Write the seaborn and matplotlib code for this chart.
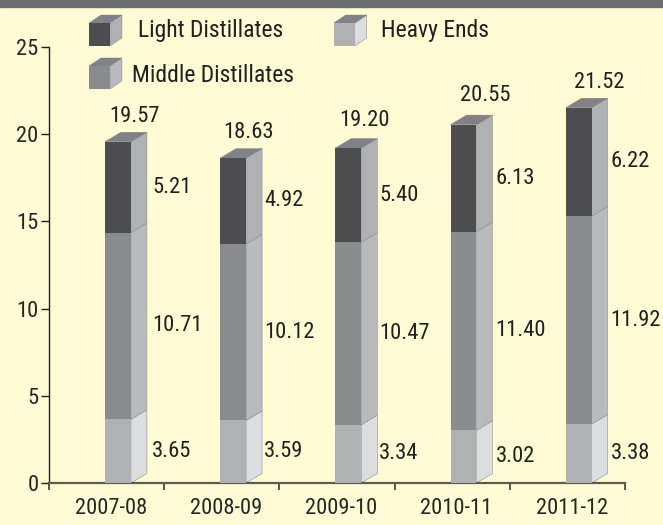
import matplotlib
matplotlib.use('Agg')
import matplotlib.pyplot as plt
import seaborn as sns
from matplotlib.patches import Polygon, Rectangle

years = ['2007-08', '2008-09', '2009-10', '2010-11', '2011-12']
heavy = [3.65, 3.59, 3.34, 3.02, 3.38]
middle = [10.71, 10.12, 10.47, 11.40, 11.92]
light = [5.21, 4.92, 5.40, 6.13, 6.22]
totals = ['19.57', '18.63', '19.20', '20.55', '21.52']
yticks = [0, 5, 10, 15, 20, 25]

BG = '#FFFBD5'
INK = '#231F20'
TOP = '#808285'
# front, side
C_LIGHT = ('#4D4D4F', '#B0B1B3')
C_MIDDLE = ('#8A8B8D', '#B9BABD')
C_HEAVY = ('#B0B1B3', '#DCDDDE')

W, H = 663, 525
L, R, B, T = 49, 625, 483, 47
PX_X = 115.3   # pixels per category
PX_Y = (B - T) / 25
BAR_W = 26 / PX_X
FONT = 16.2
LEG_FONT = 17

# hand placed label nudges, in pixels
total_dx = [17, 15, 16, 22, 21]
total_dy = [25, 26, 27, 29, 25]
seg_dx = [21, 18, 18, 19, 19]

sns.set_theme(style='white')
plt.rcParams['font.family'] = ['Roboto Condensed', 'Liberation Sans', 'DejaVu Sans']
plt.rcParams['text.color'] = INK

fig = plt.figure(figsize=(W / 100, H / 100), dpi=100, facecolor=BG)
ax = fig.add_axes([L / W, 1 - B / H, (R - L) / W, (B - T) / H], facecolor=BG)
fig.patches.append(Rectangle((0, 1 - 7 / H), 1, 7 / H, transform=fig.transFigure, color='#6D6E71'))


def side(x, y0, y1, col, dx, dy):
    ax.add_patch(Polygon([(x, y0), (x + dx, y0 + dy), (x + dx, y1 + dy), (x, y1)],
                         closed=True, fc=col, ec='#8f9092', lw=0.4, clip_on=False, zorder=2))


def top(x0, x1, y, dx, dy):
    ax.add_patch(Polygon([(x0, y), (x0 + dx, y + dy), (x1 + dx, y + dy), (x1, y)],
                         closed=True, fc=TOP, ec=TOP, lw=0.3, clip_on=False, zorder=2))


# stacked fronts
bottom = [0] * 5
for vals, cols in [(heavy, C_HEAVY), (middle, C_MIDDLE), (light, C_LIGHT)]:
    sns.barplot(x=years, y=vals, bottom=bottom, color=cols[0], saturation=1, width=BAR_W,
                linewidth=0, ax=ax, zorder=3)
    for i, v in enumerate(vals):
        side(i + BAR_W / 2, bottom[i], bottom[i] + v, cols[1], 16 / PX_X, 9.5 / PX_Y)
        ax.annotate(f'{v:.2f}', (i + BAR_W / 2, bottom[i] + v / 2), xytext=(seg_dx[i] * 0.72, 0),
                    textcoords='offset points', va='center', ha='left', fontsize=FONT)
    bottom = [b + v for b, v in zip(bottom, vals)]

for i, t in enumerate(totals):
    top(i - BAR_W / 2, i + BAR_W / 2, bottom[i], 16 / PX_X, 9.5 / PX_Y)
    ax.annotate(t, (i, bottom[i]), xytext=(total_dx[i] * 0.72, total_dy[i] * 0.72), textcoords='offset points',
                va='center', ha='center', fontsize=FONT)

ax.set_xlim((L - 118) / PX_X, (R - 118) / PX_X)
ax.set_ylim(0, 25)
ax.set_yticks(yticks)
ax.set_yticklabels([str(t) for t in yticks], fontsize=FONT)
ax.set_xticks([i - 0.598 for i in range(6)])
ax.set_xticklabels([])
ax.set_xticks([i - 0.06 for i in range(5)], minor=True)
ax.set_xticklabels(years, minor=True, fontsize=FONT)
ax.tick_params(axis='y', left=True, length=6, width=1, color=INK, pad=1.5)
ax.tick_params(axis='x', which='major', bottom=True, length=5, width=1.2, color='#3b3a36')
ax.tick_params(axis='x', which='minor', bottom=False, length=0, pad=10.5)
for s in ['top', 'right']:
    ax.spines[s].set_visible(False)
ax.spines['left'].set_color(INK)
ax.spines['left'].set_linewidth(1)
ax.spines['bottom'].set_color('#5E5C52')
ax.spines['bottom'].set_linewidth(1.6)
ax.set_xlabel('')
ax.set_ylabel('')


# legend cubes
def swatch(px, py, cols, label, tx, ty):
    x0 = (px - 118) / PX_X
    x1 = x0 + 21 / PX_X
    y0 = (B - py - 23) / PX_Y
    y1 = y0 + 23 / PX_Y
    dx, dy = 12 / PX_X, 8 / PX_Y
    ax.add_patch(Rectangle((x0, y0), x1 - x0, y1 - y0, fc=cols[0], ec='none', clip_on=False, zorder=3))
    side(x1, y0, y1, cols[1], dx, dy)
    top(x0, x1, y1, dx, dy)
    fig.text(tx / W, 1 - ty / H, label, fontsize=LEG_FONT, va='center', ha='left')


swatch(89, 23, C_LIGHT, 'Light Distillates', 138, 30)
swatch(334, 23, C_HEAVY, 'Heavy Ends', 381, 30)
swatch(89, 66, C_MIDDLE, 'Middle Distillates', 132, 76)

fig.savefig('out.png', dpi=100, facecolor=BG)
